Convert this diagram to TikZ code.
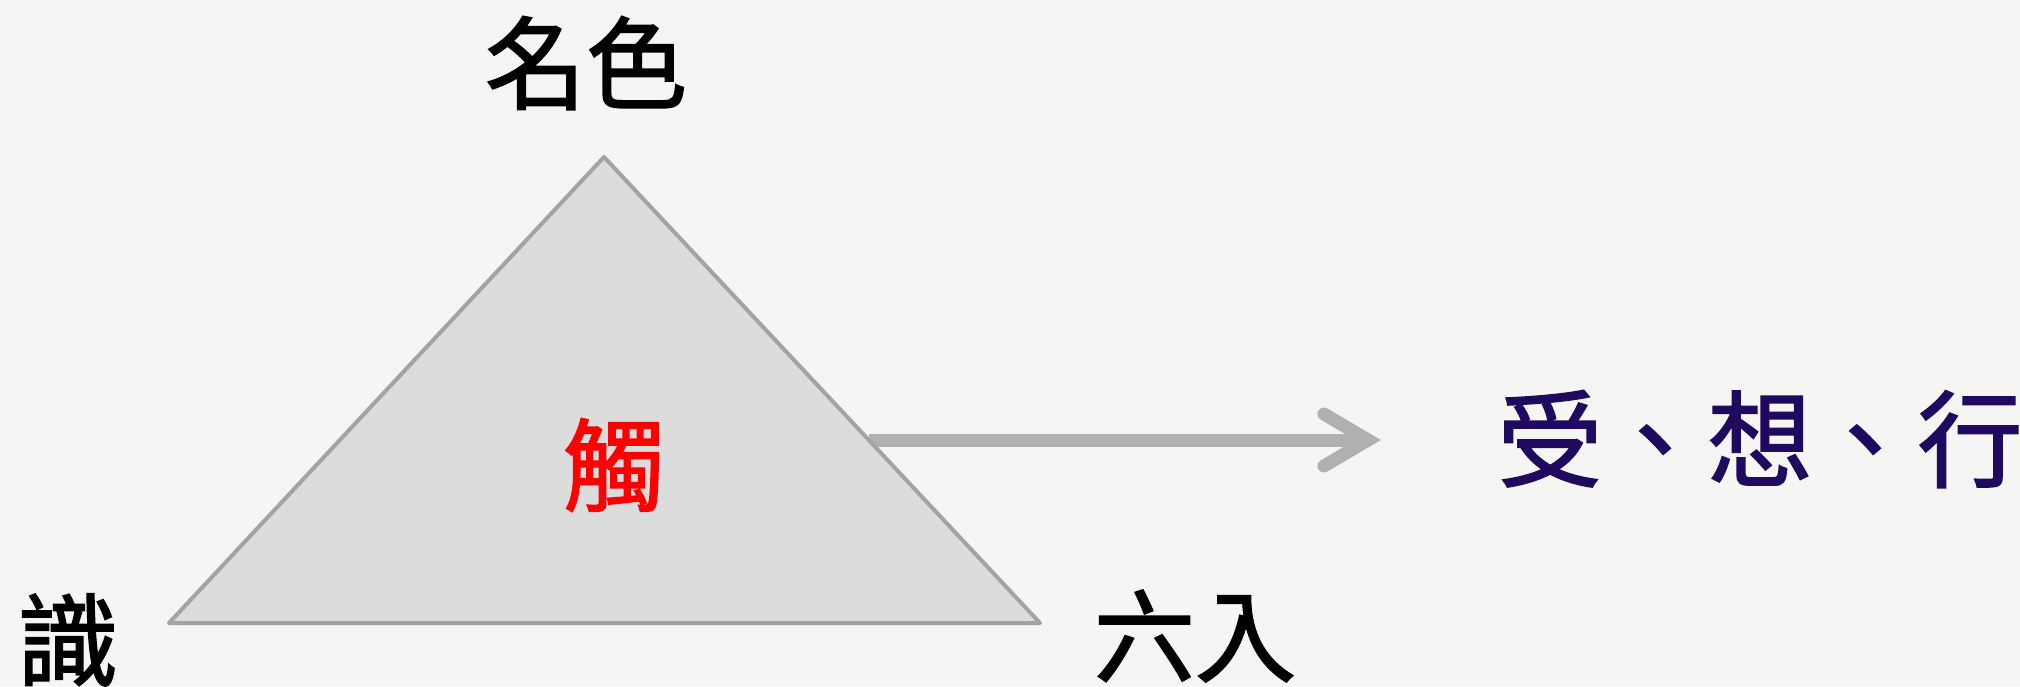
\documentclass[tikz,border=0pt]{standalone}
\usepackage{fontspec}
\newfontfamily\cjk[FakeBold=1.6]{Noto Sans CJK TC}
\usetikzlibrary{calc}
\definecolor{paper}{RGB}{245,245,244}
\definecolor{triline}{RGB}{163,163,163}
\definecolor{trifill}{RGB}{220,220,220}
\definecolor{arrowgray}{RGB}{176,176,176}
\definecolor{navy}{RGB}{32,10,96}
\tikzset{
  lbl/.style={font=\cjk\fontsize{101}{101}\selectfont, inner sep=0pt, text=black},
  redlbl/.style={lbl, text=red},
  navylbl/.style={font=\cjk\fontsize{105}{105}\selectfont, inner sep=0pt, text=navy},
  tri/.style={draw=triline, fill=trifill, line width=4pt, line join=round},
  arrowline/.style={draw=arrowgray, line width=13pt},
}
\begin{document}
\begin{tikzpicture}[x=1pt,y=-1pt]
\fill[paper] (0,0) rectangle (2020,686);
\useasboundingbox (0,0) rectangle (2020,686);
\coordinate (apex) at (604,157);
\coordinate (bl) at (169,623);
\coordinate (br) at (1040,623);
\coordinate (astart) at ($(apex)!0.607!(br)$);
\coordinate (avertex) at (1368,440);
\coordinate (aup) at (1324,414);
\coordinate (adown) at (1324,466);
\draw[arrowline] (astart |- avertex) -- (avertex);
\draw[arrowline, line cap=round, line join=miter] (aup) -- (avertex) -- (adown);
\draw[tri] (apex) -- (br) -- (bl) -- cycle;
\node[lbl] (mingse) at (586,63) {名色};
\node[redlbl] (chu) at (614,465) {觸};
\node[lbl] (shi) at (68,640) {識};
\node[lbl] (liuru) at (1195,636) {六入};
\node[navylbl] (shou) at (1760,439) {受、想、行};
\end{tikzpicture}
\end{document}
